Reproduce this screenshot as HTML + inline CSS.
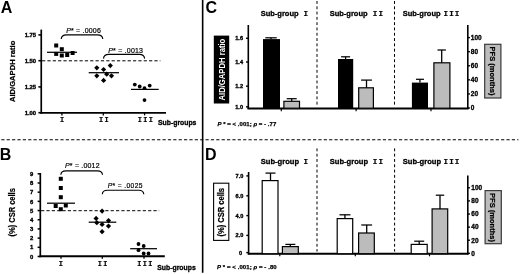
<!DOCTYPE html>
<html><head><meta charset="utf-8"><title>Figure</title>
<style>
html,body{margin:0;padding:0;background:#fff;}
body{width:520px;height:274px;overflow:hidden;font-family:"Liberation Sans",sans-serif;}
svg{display:block;}
.s{font-family:"Liberation Sans",sans-serif;}
.m{font-family:"Liberation Mono",monospace;font-weight:bold;}
.b{font-weight:bold;}
.i{font-style:italic;}
</style></head><body>
<svg width="520" height="274" viewBox="0 0 520 274" class="s">
<defs><filter id="bl" x="-5" y="-5" width="530" height="284" filterUnits="userSpaceOnUse"><feGaussianBlur stdDeviation="0.38"/></filter></defs>
<g filter="url(#bl)">
<rect x="-5" y="-5" width="530" height="284" fill="#fff"/>
<line x1="202.65" y1="0" x2="202.65" y2="272.8" stroke="#000" stroke-width="1.6" />
<line x1="1.3" y1="139.75" x2="518.4" y2="139.75" stroke="#000" stroke-width="1.0" stroke-dasharray="3.2 2.174"/>
<text x="0.8" y="13.2" font-size="16" class="b" text-anchor="start" fill="#000" >A</text>
<text x="-0.2" y="160.2" font-size="16" class="b" text-anchor="start" fill="#000" >B</text>
<text x="205.4" y="13.3" font-size="16" class="b" text-anchor="start" fill="#000" >C</text>
<text x="205.0" y="160.2" font-size="16" class="b" text-anchor="start" fill="#000" >D</text>
<line x1="41.25" y1="29.6" x2="41.25" y2="113.8" stroke="#000" stroke-width="1.7" />
<line x1="40.45" y1="112.9" x2="166" y2="112.9" stroke="#000" stroke-width="1.9" />
<line x1="38.4" y1="34.9" x2="41.25" y2="34.9" stroke="#000" stroke-width="1.6" />
<text x="36.1" y="37.05" font-size="5.9" class="b" text-anchor="end" fill="#000" stroke="#000" stroke-width="0.35" >1.75</text>
<line x1="38.4" y1="60.7" x2="41.25" y2="60.7" stroke="#000" stroke-width="1.6" />
<text x="36.1" y="62.85" font-size="5.9" class="b" text-anchor="end" fill="#000" stroke="#000" stroke-width="0.35" >1.50</text>
<line x1="38.4" y1="86.9" x2="41.25" y2="86.9" stroke="#000" stroke-width="1.6" />
<text x="36.1" y="89.05000000000001" font-size="5.9" class="b" text-anchor="end" fill="#000" stroke="#000" stroke-width="0.35" >1.25</text>
<line x1="38.4" y1="112.7" x2="41.25" y2="112.7" stroke="#000" stroke-width="1.6" />
<text x="36.1" y="114.85000000000001" font-size="5.9" class="b" text-anchor="end" fill="#000" stroke="#000" stroke-width="0.35" >1.00</text>
<text transform="translate(15.3,71.4) rotate(-90)" font-size="7.6" class="b" text-anchor="middle" fill="#000" stroke="#000" stroke-width="0.25" textLength="61.4" lengthAdjust="spacing">AID/GAPDH ratio</text>
<line x1="42.05" y1="60.8" x2="160.4" y2="60.8" stroke="#000" stroke-width="1.0" stroke-dasharray="3.2 2.15"/>
<line x1="61.9" y1="112.9" x2="61.9" y2="115.4" stroke="#000" stroke-width="1.3" />
<text x="62.75" y="121.7" font-size="6.9" class="m" text-anchor="middle" fill="#000" stroke="#000" stroke-width="0.2" letter-spacing="1.3">I</text>
<line x1="103.3" y1="112.9" x2="103.3" y2="115.4" stroke="#000" stroke-width="1.3" />
<text x="104.45" y="121.7" font-size="6.9" class="m" text-anchor="middle" fill="#000" stroke="#000" stroke-width="0.2" letter-spacing="1.3">II</text>
<line x1="144.6" y1="112.9" x2="144.6" y2="115.4" stroke="#000" stroke-width="1.3" />
<text x="145.95000000000002" y="121.7" font-size="6.9" class="m" text-anchor="middle" fill="#000" stroke="#000" stroke-width="0.2" letter-spacing="1.3">III</text>
<text x="158" y="124.6" font-size="6.85" class="b" text-anchor="start" fill="#000" stroke="#000" stroke-width="0.3" >Sub-groups</text>
<rect x="54.20" y="43.50" width="4.0" height="4.0" fill="#000"/>
<rect x="59.80" y="47.20" width="4.0" height="4.0" fill="#000"/>
<rect x="54.20" y="51.90" width="4.0" height="4.0" fill="#000"/>
<rect x="59.80" y="53.50" width="4.0" height="4.0" fill="#000"/>
<rect x="65.20" y="53.00" width="4.0" height="4.0" fill="#000"/>
<rect x="70.60" y="51.00" width="4.0" height="4.0" fill="#000"/>
<line x1="47" y1="52.3" x2="77" y2="52.3" stroke="#000" stroke-width="1.25" />
<path d="M96.8,65.2L99.39999999999999,67.8L96.8,70.39999999999999L94.2,67.8Z" fill="#000"/>
<path d="M110.3,62.99999999999999L112.89999999999999,65.6L110.3,68.19999999999999L107.7,65.6Z" fill="#000"/>
<path d="M103.6,66.9L106.19999999999999,69.5L103.6,72.1L101.0,69.5Z" fill="#000"/>
<path d="M96.8,73.2L99.39999999999999,75.8L96.8,78.39999999999999L94.2,75.8Z" fill="#000"/>
<path d="M106.7,71.60000000000001L109.3,74.2L106.7,76.8L104.10000000000001,74.2Z" fill="#000"/>
<path d="M111.5,73.2L114.1,75.8L111.5,78.39999999999999L108.9,75.8Z" fill="#000"/>
<path d="M103.6,77.80000000000001L106.19999999999999,80.4L103.6,83.0L101.0,80.4Z" fill="#000"/>
<line x1="88.7" y1="72.7" x2="119" y2="72.7" stroke="#000" stroke-width="1.25" />
<circle cx="134.8" cy="84.6" r="1.9" fill="#000"/>
<circle cx="139.7" cy="86.5" r="1.9" fill="#000"/>
<circle cx="144.5" cy="88.2" r="1.9" fill="#000"/>
<circle cx="149.7" cy="85.6" r="1.9" fill="#000"/>
<circle cx="144.5" cy="100.1" r="1.9" fill="#000"/>
<line x1="131" y1="89.4" x2="158.7" y2="89.4" stroke="#000" stroke-width="1.25" />
<path d="M61.2,39.0 Q61.5,34.8 66.4,34.8 L97.6,34.8 Q102.5,34.8 102.8,39.0" fill="none" stroke="#000" stroke-width="1.15"/>
<text x="66.2" y="32.5" font-size="7.0" class="s" stroke="#000" stroke-width="0.2" textLength="34.6" lengthAdjust="spacing"><tspan class="i">P</tspan>* = .0006</text>
<path d="M103.5,58.6 Q103.8,54.4 108.7,54.4 L139.39999999999998,54.4 Q144.29999999999998,54.4 144.6,58.6" fill="none" stroke="#000" stroke-width="1.15"/>
<text x="108.2" y="52.6" font-size="7.0" class="s" stroke="#000" stroke-width="0.2" textLength="34.8" lengthAdjust="spacing"><tspan class="i">P</tspan>* = .0013</text>
<line x1="40.3" y1="173.0" x2="40.3" y2="257.2" stroke="#000" stroke-width="1.7" />
<line x1="39.5" y1="256.3" x2="164.8" y2="256.3" stroke="#000" stroke-width="1.9" />
<line x1="37.6" y1="256.5" x2="40.3" y2="256.5" stroke="#000" stroke-width="1.5" />
<text x="33.3" y="258.65" font-size="5.9" class="b" text-anchor="end" fill="#000" stroke="#000" stroke-width="0.35" >0</text>
<line x1="37.6" y1="247.31" x2="40.3" y2="247.31" stroke="#000" stroke-width="1.5" />
<text x="33.3" y="249.46" font-size="5.9" class="b" text-anchor="end" fill="#000" stroke="#000" stroke-width="0.35" >1</text>
<line x1="37.6" y1="238.12" x2="40.3" y2="238.12" stroke="#000" stroke-width="1.5" />
<text x="33.3" y="240.27" font-size="5.9" class="b" text-anchor="end" fill="#000" stroke="#000" stroke-width="0.35" >2</text>
<line x1="37.6" y1="228.93" x2="40.3" y2="228.93" stroke="#000" stroke-width="1.5" />
<text x="33.3" y="231.08" font-size="5.9" class="b" text-anchor="end" fill="#000" stroke="#000" stroke-width="0.35" >3</text>
<line x1="37.6" y1="219.74" x2="40.3" y2="219.74" stroke="#000" stroke-width="1.5" />
<text x="33.3" y="221.89000000000001" font-size="5.9" class="b" text-anchor="end" fill="#000" stroke="#000" stroke-width="0.35" >4</text>
<line x1="37.6" y1="210.55" x2="40.3" y2="210.55" stroke="#000" stroke-width="1.5" />
<text x="33.3" y="212.70000000000002" font-size="5.9" class="b" text-anchor="end" fill="#000" stroke="#000" stroke-width="0.35" >5</text>
<line x1="37.6" y1="201.36" x2="40.3" y2="201.36" stroke="#000" stroke-width="1.5" />
<text x="33.3" y="203.51000000000002" font-size="5.9" class="b" text-anchor="end" fill="#000" stroke="#000" stroke-width="0.35" >6</text>
<line x1="37.6" y1="192.17000000000002" x2="40.3" y2="192.17000000000002" stroke="#000" stroke-width="1.5" />
<text x="33.3" y="194.32000000000002" font-size="5.9" class="b" text-anchor="end" fill="#000" stroke="#000" stroke-width="0.35" >7</text>
<line x1="37.6" y1="182.98000000000002" x2="40.3" y2="182.98000000000002" stroke="#000" stroke-width="1.5" />
<text x="33.3" y="185.13000000000002" font-size="5.9" class="b" text-anchor="end" fill="#000" stroke="#000" stroke-width="0.35" >8</text>
<line x1="37.6" y1="173.79000000000002" x2="40.3" y2="173.79000000000002" stroke="#000" stroke-width="1.5" />
<text x="33.3" y="175.94000000000003" font-size="5.9" class="b" text-anchor="end" fill="#000" stroke="#000" stroke-width="0.35" >9</text>
<text transform="translate(14.9,212.35) rotate(-90)" font-size="8.5" class="b" text-anchor="middle" fill="#000" stroke="#000" stroke-width="0.2" textLength="48.3" lengthAdjust="spacingAndGlyphs">(%) CSR cells</text>
<line x1="41.099999999999994" y1="210.7" x2="159.2" y2="210.7" stroke="#000" stroke-width="1.0" stroke-dasharray="3.2 2.15"/>
<line x1="61" y1="256.3" x2="61" y2="258.8" stroke="#000" stroke-width="1.3" />
<text x="61.55" y="265.8" font-size="6.9" class="m" text-anchor="middle" fill="#000" stroke="#000" stroke-width="0.2" letter-spacing="1.3">I</text>
<line x1="102.3" y1="256.3" x2="102.3" y2="258.8" stroke="#000" stroke-width="1.3" />
<text x="103.25" y="265.8" font-size="6.9" class="m" text-anchor="middle" fill="#000" stroke="#000" stroke-width="0.2" letter-spacing="1.3">II</text>
<line x1="144" y1="256.3" x2="144" y2="258.8" stroke="#000" stroke-width="1.3" />
<text x="145.45000000000002" y="265.8" font-size="6.9" class="m" text-anchor="middle" fill="#000" stroke="#000" stroke-width="0.2" letter-spacing="1.3">III</text>
<text x="157.3" y="269.7" font-size="6.85" class="b" text-anchor="start" fill="#000" stroke="#000" stroke-width="0.3" >Sub-groups</text>
<rect x="58.80" y="176.80" width="4.0" height="4.0" fill="#000"/>
<rect x="58.80" y="186.00" width="4.0" height="4.0" fill="#000"/>
<rect x="58.80" y="195.20" width="4.0" height="4.0" fill="#000"/>
<rect x="53.70" y="204.00" width="4.0" height="4.0" fill="#000"/>
<rect x="63.80" y="203.50" width="4.0" height="4.0" fill="#000"/>
<rect x="58.80" y="207.20" width="4.0" height="4.0" fill="#000"/>
<line x1="47" y1="203.2" x2="75" y2="203.2" stroke="#000" stroke-width="1.25" />
<path d="M102.1,208.5L104.69999999999999,211.1L102.1,213.7L99.5,211.1Z" fill="#000"/>
<path d="M96.1,215.8L98.69999999999999,218.4L96.1,221.0L93.5,218.4Z" fill="#000"/>
<path d="M108.5,218.0L111.1,220.6L108.5,223.2L105.9,220.6Z" fill="#000"/>
<path d="M96.8,220.1L99.39999999999999,222.7L96.8,225.29999999999998L94.2,222.7Z" fill="#000"/>
<path d="M102.1,221.8L104.69999999999999,224.4L102.1,227.0L99.5,224.4Z" fill="#000"/>
<path d="M108.5,223.5L111.1,226.1L108.5,228.7L105.9,226.1Z" fill="#000"/>
<path d="M102.1,229.1L104.69999999999999,231.7L102.1,234.29999999999998L99.5,231.7Z" fill="#000"/>
<line x1="88.7" y1="222.2" x2="116.3" y2="222.2" stroke="#000" stroke-width="1.25" />
<circle cx="138.5" cy="244" r="1.9" fill="#000"/>
<circle cx="143.7" cy="246" r="1.9" fill="#000"/>
<circle cx="138.5" cy="250.2" r="1.9" fill="#000"/>
<circle cx="143.7" cy="253.5" r="1.9" fill="#000"/>
<circle cx="148.5" cy="253.5" r="1.9" fill="#000"/>
<line x1="130.2" y1="248.7" x2="157" y2="248.7" stroke="#000" stroke-width="1.25" />
<path d="M60.8,174.8 Q61.099999999999994,170.8 65.8,170.8 L97.5,170.8 Q102.2,170.8 102.5,174.8" fill="none" stroke="#000" stroke-width="1.15"/>
<text x="65" y="168.4" font-size="7.0" class="s" stroke="#000" stroke-width="0.2" textLength="34.6" lengthAdjust="spacing"><tspan class="i">P</tspan>* = .0012</text>
<path d="M102.3,194.2 Q102.6,190.2 107.3,190.2 L138.8,190.2 Q143.5,190.2 143.8,194.2" fill="none" stroke="#000" stroke-width="1.15"/>
<text x="107.7" y="188.4" font-size="6.7" class="s" stroke="#000" stroke-width="0.2" textLength="34.8" lengthAdjust="spacing"><tspan class="i">P</tspan>* = .0025</text>
<text x="260.7" y="16.2" font-size="7.5" class="b" stroke="#000" stroke-width="0.3">Sub-group</text>
<text x="306.45" y="16.2" font-size="7.6" class="m" text-anchor="middle" letter-spacing="1.1" stroke="#000" stroke-width="0.2">I</text>
<text x="329.7" y="16.2" font-size="7.5" class="b" stroke="#000" stroke-width="0.3">Sub-group</text>
<text x="378.40000000000003" y="16.2" font-size="7.6" class="m" text-anchor="middle" letter-spacing="1.1" stroke="#000" stroke-width="0.2">II</text>
<text x="402.7" y="16.2" font-size="7.5" class="b" stroke="#000" stroke-width="0.3">Sub-group</text>
<text x="452.05" y="16.2" font-size="7.6" class="m" text-anchor="middle" letter-spacing="1.1" stroke="#000" stroke-width="0.2">III</text>
<line x1="317.0" y1="1.0" x2="317.0" y2="105.2" stroke="#000" stroke-width="1.0" stroke-dasharray="2.9 2.4"/>
<line x1="394.5" y1="1.0" x2="394.5" y2="105.2" stroke="#000" stroke-width="1.0" stroke-dasharray="2.9 2.4"/>
<line x1="248.3" y1="25" x2="248.3" y2="108.9" stroke="#000" stroke-width="1.6" />
<line x1="247.5" y1="108.4" x2="468.6" y2="108.4" stroke="#000" stroke-width="2.0" />
<line x1="246.0" y1="38.3" x2="248.3" y2="38.3" stroke="#000" stroke-width="1.4" />
<text x="243.0" y="40.3" font-size="5.6" class="b" text-anchor="end" fill="#000" stroke="#000" stroke-width="0.35" >1.6</text>
<line x1="246.0" y1="62" x2="248.3" y2="62" stroke="#000" stroke-width="1.4" />
<text x="243.0" y="64.0" font-size="5.6" class="b" text-anchor="end" fill="#000" stroke="#000" stroke-width="0.35" >1.4</text>
<line x1="246.0" y1="86.2" x2="248.3" y2="86.2" stroke="#000" stroke-width="1.4" />
<text x="243.0" y="88.2" font-size="5.6" class="b" text-anchor="end" fill="#000" stroke="#000" stroke-width="0.35" >1.2</text>
<line x1="246.0" y1="106.8" x2="248.3" y2="106.8" stroke="#000" stroke-width="1.4" />
<text x="243.0" y="108.8" font-size="5.6" class="b" text-anchor="end" fill="#000" stroke="#000" stroke-width="0.35" >1.0</text>
<rect x="213.8" y="35.6" width="15.4" height="67.9" fill="#000"/>
<text transform="translate(225.0,69.6) rotate(-90)" font-size="8.4" class="b" text-anchor="middle" fill="#fff" textLength="61.8" lengthAdjust="spacingAndGlyphs">AID/GAPDH ratio</text>
<rect x="263.0" y="39.1" width="17.00" height="69.10" fill="#000" stroke="#000" stroke-width="0"/>
<line x1="271.0" y1="37.8" x2="271.0" y2="39.1" stroke="#000" stroke-width="1.3" />
<line x1="265.3" y1="37.8" x2="276.7" y2="37.8" stroke="#000" stroke-width="1.25" />
<rect x="283.9" y="101.3" width="15.60" height="6.90" fill="#bcbcbc" stroke="#000" stroke-width="1.2"/>
<line x1="291.7" y1="98.7" x2="291.7" y2="101.3" stroke="#000" stroke-width="1.3" />
<line x1="286.7" y1="98.7" x2="296.7" y2="98.7" stroke="#000" stroke-width="1.25" />
<rect x="338" y="59" width="15.20" height="49.20" fill="#000" stroke="#000" stroke-width="0"/>
<line x1="345.6" y1="56.8" x2="345.6" y2="59" stroke="#000" stroke-width="1.3" />
<line x1="341.1" y1="56.8" x2="350.1" y2="56.8" stroke="#000" stroke-width="1.25" />
<rect x="358.7" y="87.8" width="14.70" height="20.40" fill="#bcbcbc" stroke="#000" stroke-width="1.2"/>
<line x1="366.5" y1="80.1" x2="366.5" y2="87.8" stroke="#000" stroke-width="1.3" />
<line x1="361.1" y1="80.1" x2="371.9" y2="80.1" stroke="#000" stroke-width="1.25" />
<rect x="411.9" y="82.6" width="16.10" height="25.60" fill="#000" stroke="#000" stroke-width="0"/>
<line x1="419.95" y1="79.3" x2="419.95" y2="82.6" stroke="#000" stroke-width="1.3" />
<line x1="415.95" y1="79.3" x2="423.95" y2="79.3" stroke="#000" stroke-width="1.25" />
<rect x="433.9" y="62.8" width="16.00" height="45.40" fill="#bcbcbc" stroke="#000" stroke-width="1.2"/>
<line x1="441.7" y1="50" x2="441.7" y2="62.8" stroke="#000" stroke-width="1.3" />
<line x1="437.5" y1="50" x2="445.9" y2="50" stroke="#000" stroke-width="1.25" />
<line x1="281.3" y1="108.5" x2="281.3" y2="111.2" stroke="#000" stroke-width="1.2" />
<line x1="356.1" y1="108.5" x2="356.1" y2="111.2" stroke="#000" stroke-width="1.2" />
<line x1="431" y1="108.5" x2="431" y2="111.2" stroke="#000" stroke-width="1.2" />
<line x1="467.8" y1="25" x2="467.8" y2="108.9" stroke="#000" stroke-width="1.6" />
<line x1="467.8" y1="108.0" x2="470.0" y2="108.0" stroke="#000" stroke-width="1.3" />
<text x="470.8" y="110.35" font-size="6.5" class="b" text-anchor="start" fill="#000" stroke="#000" stroke-width="0.3" >0</text>
<line x1="467.8" y1="93.92" x2="470.0" y2="93.92" stroke="#000" stroke-width="1.3" />
<text x="470.8" y="96.27" font-size="6.5" class="b" text-anchor="start" fill="#000" stroke="#000" stroke-width="0.3" >20</text>
<line x1="467.8" y1="79.84" x2="470.0" y2="79.84" stroke="#000" stroke-width="1.3" />
<text x="470.8" y="82.19" font-size="6.5" class="b" text-anchor="start" fill="#000" stroke="#000" stroke-width="0.3" >40</text>
<line x1="467.8" y1="65.75999999999999" x2="470.0" y2="65.75999999999999" stroke="#000" stroke-width="1.3" />
<text x="470.8" y="68.10999999999999" font-size="6.5" class="b" text-anchor="start" fill="#000" stroke="#000" stroke-width="0.3" >60</text>
<line x1="467.8" y1="51.68" x2="470.0" y2="51.68" stroke="#000" stroke-width="1.3" />
<text x="470.8" y="54.03" font-size="6.5" class="b" text-anchor="start" fill="#000" stroke="#000" stroke-width="0.3" >80</text>
<line x1="467.8" y1="37.599999999999994" x2="470.0" y2="37.599999999999994" stroke="#000" stroke-width="1.3" />
<text x="470.8" y="39.949999999999996" font-size="6.5" class="b" text-anchor="start" fill="#000" stroke="#000" stroke-width="0.3" >100</text>
<rect x="484.7" y="44.3" width="16.2" height="53.7" fill="#bcbcbc" stroke="#3a3a3a" stroke-width="1.2"/>
<text transform="translate(490.0,71.0) rotate(90)" font-size="8.0" class="b" text-anchor="middle" fill="#000" stroke="#000" stroke-width="0.25" textLength="48.8" lengthAdjust="spacingAndGlyphs">PFS (months)</text>
<text x="217.4" y="125.6" font-size="6" class="b" stroke="#000" stroke-width="0.25" textLength="58.9" lengthAdjust="spacing"><tspan class="i">P</tspan> * = &lt; .001; <tspan class="i">&#961;</tspan> = - .77</text>
<text x="260.7" y="164.2" font-size="7.6" class="b" stroke="#000" stroke-width="0.3">Sub-group</text>
<text x="306.45" y="164.2" font-size="7.6" class="m" text-anchor="middle" letter-spacing="1.1" stroke="#000" stroke-width="0.2">I</text>
<text x="329.7" y="164.2" font-size="7.6" class="b" stroke="#000" stroke-width="0.3">Sub-group</text>
<text x="378.40000000000003" y="164.2" font-size="7.6" class="m" text-anchor="middle" letter-spacing="1.1" stroke="#000" stroke-width="0.2">II</text>
<text x="402.7" y="164.2" font-size="7.6" class="b" stroke="#000" stroke-width="0.3">Sub-group</text>
<text x="452.05" y="164.2" font-size="7.6" class="m" text-anchor="middle" letter-spacing="1.1" stroke="#000" stroke-width="0.2">III</text>
<line x1="317.0" y1="148.4" x2="317.0" y2="251.6" stroke="#000" stroke-width="1.0" stroke-dasharray="2.9 2.4"/>
<line x1="394.6" y1="148.4" x2="394.6" y2="251.6" stroke="#000" stroke-width="1.0" stroke-dasharray="2.9 2.4"/>
<line x1="248.6" y1="172" x2="248.6" y2="254.4" stroke="#000" stroke-width="1.6" />
<line x1="247.8" y1="253.7" x2="468.6" y2="253.7" stroke="#000" stroke-width="2.0" />
<line x1="246.3" y1="175.9" x2="248.6" y2="175.9" stroke="#000" stroke-width="1.4" />
<text x="243.3" y="177.9" font-size="5.6" class="b" text-anchor="end" fill="#000" stroke="#000" stroke-width="0.35" >7.0</text>
<line x1="246.3" y1="195.8" x2="248.6" y2="195.8" stroke="#000" stroke-width="1.4" />
<text x="243.3" y="197.8" font-size="5.6" class="b" text-anchor="end" fill="#000" stroke="#000" stroke-width="0.35" >6.0</text>
<line x1="246.3" y1="215.6" x2="248.6" y2="215.6" stroke="#000" stroke-width="1.4" />
<text x="243.3" y="217.6" font-size="5.6" class="b" text-anchor="end" fill="#000" stroke="#000" stroke-width="0.35" >4.0</text>
<line x1="246.3" y1="235.4" x2="248.6" y2="235.4" stroke="#000" stroke-width="1.4" />
<text x="243.3" y="237.4" font-size="5.6" class="b" text-anchor="end" fill="#000" stroke="#000" stroke-width="0.35" >2.0</text>
<line x1="246.3" y1="252.6" x2="248.6" y2="252.6" stroke="#000" stroke-width="1.4" />
<text x="242.2" y="254.6" font-size="5.6" class="b" text-anchor="end" fill="#000" stroke="#000" stroke-width="0.35" >0</text>
<rect x="213.6" y="183.2" width="15.2" height="57.2" fill="#fff" stroke="#000" stroke-width="1.1"/>
<text transform="translate(224.3,212.2) rotate(-90)" font-size="8.2" class="b" text-anchor="middle" fill="#000" stroke="#000" stroke-width="0.25" textLength="48.5" lengthAdjust="spacingAndGlyphs">(%) CSR cells</text>
<rect x="262.2" y="180.6" width="15.80" height="73.10" fill="#fff" stroke="#000" stroke-width="1.2"/>
<line x1="270.5" y1="173.1" x2="270.5" y2="180.6" stroke="#000" stroke-width="1.3" />
<line x1="265.5" y1="173.1" x2="275.5" y2="173.1" stroke="#000" stroke-width="1.25" />
<rect x="282.4" y="246.6" width="15.90" height="7.10" fill="#bcbcbc" stroke="#000" stroke-width="1.2"/>
<line x1="290.35" y1="244.4" x2="290.35" y2="246.6" stroke="#000" stroke-width="1.3" />
<line x1="285.35" y1="244.4" x2="295.35" y2="244.4" stroke="#000" stroke-width="1.25" />
<rect x="337.2" y="218.6" width="15.50" height="35.10" fill="#fff" stroke="#000" stroke-width="1.2"/>
<line x1="344.95" y1="214.8" x2="344.95" y2="218.6" stroke="#000" stroke-width="1.3" />
<line x1="339.45" y1="214.8" x2="350.45" y2="214.8" stroke="#000" stroke-width="1.25" />
<rect x="358.6" y="233" width="15.70" height="20.70" fill="#bcbcbc" stroke="#000" stroke-width="1.2"/>
<line x1="366.7" y1="225" x2="366.7" y2="233" stroke="#000" stroke-width="1.3" />
<line x1="361.3" y1="225" x2="372.09999999999997" y2="225" stroke="#000" stroke-width="1.25" />
<rect x="411.2" y="244.4" width="16.00" height="9.30" fill="#fff" stroke="#000" stroke-width="1.2"/>
<line x1="419.2" y1="241.2" x2="419.2" y2="244.4" stroke="#000" stroke-width="1.3" />
<line x1="414.2" y1="241.2" x2="424.2" y2="241.2" stroke="#000" stroke-width="1.25" />
<rect x="432.1" y="208.9" width="15.60" height="44.80" fill="#bcbcbc" stroke="#000" stroke-width="1.2"/>
<line x1="440.0" y1="195.2" x2="440.0" y2="208.9" stroke="#000" stroke-width="1.3" />
<line x1="435.8" y1="195.2" x2="444.2" y2="195.2" stroke="#000" stroke-width="1.25" />
<line x1="279.8" y1="253.7" x2="279.8" y2="256.3" stroke="#000" stroke-width="1.2" />
<line x1="355.3" y1="253.7" x2="355.3" y2="256.3" stroke="#000" stroke-width="1.2" />
<line x1="429.5" y1="253.7" x2="429.5" y2="256.3" stroke="#000" stroke-width="1.2" />
<line x1="467.8" y1="175.5" x2="467.8" y2="254.4" stroke="#000" stroke-width="1.6" />
<line x1="467.8" y1="253.3" x2="470.0" y2="253.3" stroke="#000" stroke-width="1.3" />
<text x="471.3" y="255.65" font-size="6.5" class="b" text-anchor="start" fill="#000" stroke="#000" stroke-width="0.3" >0</text>
<line x1="467.8" y1="240.20000000000002" x2="470.0" y2="240.20000000000002" stroke="#000" stroke-width="1.3" />
<text x="471.3" y="242.55" font-size="6.5" class="b" text-anchor="start" fill="#000" stroke="#000" stroke-width="0.3" >20</text>
<line x1="467.8" y1="227.10000000000002" x2="470.0" y2="227.10000000000002" stroke="#000" stroke-width="1.3" />
<text x="471.3" y="229.45000000000002" font-size="6.5" class="b" text-anchor="start" fill="#000" stroke="#000" stroke-width="0.3" >40</text>
<line x1="467.8" y1="214.0" x2="470.0" y2="214.0" stroke="#000" stroke-width="1.3" />
<text x="471.3" y="216.35" font-size="6.5" class="b" text-anchor="start" fill="#000" stroke="#000" stroke-width="0.3" >60</text>
<line x1="467.8" y1="200.9" x2="470.0" y2="200.9" stroke="#000" stroke-width="1.3" />
<text x="471.3" y="203.25" font-size="6.5" class="b" text-anchor="start" fill="#000" stroke="#000" stroke-width="0.3" >80</text>
<line x1="467.8" y1="187.8" x2="470.0" y2="187.8" stroke="#000" stroke-width="1.3" />
<text x="471.3" y="190.15" font-size="6.5" class="b" text-anchor="start" fill="#000" stroke="#000" stroke-width="0.3" >100</text>
<rect x="485.1" y="190.6" width="16.2" height="53.1" fill="#bcbcbc" stroke="#3a3a3a" stroke-width="1.2"/>
<text transform="translate(490.4,217.5) rotate(90)" font-size="8.0" class="b" text-anchor="middle" fill="#000" stroke="#000" stroke-width="0.25" textLength="48.8" lengthAdjust="spacingAndGlyphs">PFS (months)</text>
<text x="217" y="269.4" font-size="6" class="b" stroke="#000" stroke-width="0.25" textLength="59.7" lengthAdjust="spacing"><tspan class="i">P</tspan> * = &lt; .001; <tspan class="i">&#961;</tspan> = - .80</text>
</g>
</svg>
</body></html>
